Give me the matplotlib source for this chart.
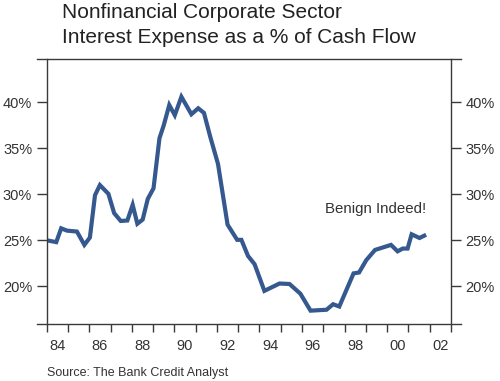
import numpy as np
import matplotlib.pyplot as plt
from matplotlib.ticker import FixedLocator, NullFormatter

plt.rcParams['font.family'] = ['Liberation Sans', 'DejaVu Sans']

#------------------------------------------------------------------------------
# Data (year, interest expense as % of cash flow)
#------------------------------------------------------------------------------
years = [1984.0, 1984.45, 1984.68, 1984.95, 1985.42, 1985.77, 1986.03, 1986.27,
         1986.5, 1986.9, 1987.17, 1987.48, 1987.79, 1988.04, 1988.26, 1988.51,
         1988.75, 1989.02, 1989.3, 1989.5, 1989.76, 1990.02, 1990.33, 1990.8,
         1991.12, 1991.39, 1991.68, 1992.05, 1992.5, 1992.95, 1993.15, 1993.46,
         1993.77, 1994.23, 1994.94, 1995.41, 1995.92, 1996.4, 1997.15, 1997.46,
         1997.75, 1998.42, 1998.68, 1999.02, 1999.43, 2000.18, 2000.49, 2000.73,
         2000.96, 2001.15, 2001.52, 2001.83]
values = [25.0, 24.8, 26.3, 26.05, 25.95, 24.5, 25.3, 29.9,
          31.0, 30.05, 27.95, 27.1, 27.15, 28.85, 26.8, 27.25,
          29.5, 30.65, 36.1, 37.5, 39.7, 38.6, 40.6, 38.7,
          39.35, 38.85, 36.3, 33.3, 26.7, 25.05, 25.05, 23.3,
          22.4, 19.5, 20.3, 20.25, 19.2, 17.35, 17.45, 18.05,
          17.8, 21.4, 21.5, 22.85, 23.95, 24.5, 23.8, 24.1,
          24.1, 25.65, 25.25, 25.6]

year_ticks  = list(range(1984, 2004))
label_years = list(range(1984, 2003, 2))
x_labels    = ['84', '86', '88', '90', '92', '94', '96', '98', '00', '02']
y_ticks     = [20, 25, 30, 35, 40]
y_labels    = ['20%', '25%', '30%', '35%', '40%']

line_col = '#35598f'
axis_col = '#3a3a3a'
text_col = '#333333'

#------------------------------------------------------------------------------
fig = plt.figure(figsize=(5, 3.81), dpi=100)
ax  = fig.add_axes([0.0934, 0.1496, 0.8086, 0.6954])

ax.plot(years, values, color=line_col, linewidth=3.0, solid_joinstyle='miter',
        solid_capstyle='butt')

ax.set_xlim(1984, 2003)
ax.set_ylim(15.9, 44.7)

# x axis: ticks at every year, labels centred in the even years
ax.xaxis.set_major_locator(FixedLocator(year_ticks))
ax.xaxis.set_major_formatter(NullFormatter())
ax.xaxis.set_minor_locator(FixedLocator([y + 0.5 for y in label_years]))
ax.set_xticklabels(x_labels, minor=True)
ax.tick_params(axis='x', which='major', direction='out', length=6, width=1,
               color=axis_col)
ax.tick_params(axis='x', which='minor', length=0, pad=11, labelsize=10.5,
               labelcolor=text_col)

# y axis on both sides
ax.set_yticks(y_ticks)
ax.set_yticklabels(y_labels)
ax.tick_params(axis='y', which='major', direction='out', length=7.5, width=1,
               color=axis_col, labelsize=10.5, labelcolor=text_col,
               left=True, right=True, labelleft=True, labelright=True, pad=3)

for s in ax.spines.values():
    s.set_color(axis_col)
    s.set_linewidth(1)
ax.spines['top'].set_visible(False)
ax.spines['bottom'].set_visible(False)

# top and bottom frame lines run a bit past the sides
for yy in (0, 1):
    ax.plot([-0.025, 1.025], [yy, yy], transform=ax.transAxes, color=axis_col,
            linewidth=1, clip_on=False)

ax.text(2001.83, 28.4, 'Benign Indeed!', ha='right', va='center', fontsize=10.8,
        color=text_col)

fig.text(62 / 500, 1 - 18.3 / 381, 'Nonfinancial Corporate Sector',
         fontsize=15, color='#222222', ha='left', va='baseline')
fig.text(62 / 500, 1 - 43.3 / 381, 'Interest Expense as a % of Cash Flow',
         fontsize=15, color='#222222', ha='left', va='baseline')
fig.text(47 / 500, 1 - 373 / 381, 'Source: The Bank Credit Analyst',
         fontsize=9.0, color=text_col, ha='left', va='center')

plt.savefig('out.png', dpi=100)
